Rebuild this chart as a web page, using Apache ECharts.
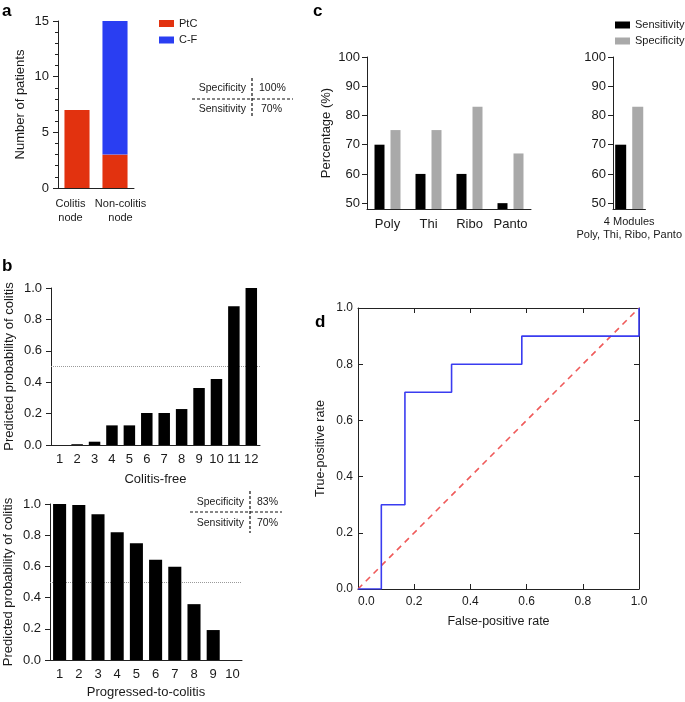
<!DOCTYPE html>
<html>
<head>
<meta charset="utf-8">
<script src="https://cdn.jsdelivr.net/npm/echarts@6/dist/echarts.min.js"></script>
<style>html,body{margin:0;padding:0;background:#fff}#c{width:685px;height:702px}</style>
</head>
<body>
<div id="c"></div>
<script>
// ---- Data ----
const aCategories = ['Colitis\nnode', 'Non-colitis\nnode'];
const aPtC = [7, 3];
const aCF = [0, 12];

const bFreeCats = ['1','2','3','4','5','6','7','8','9','10','11','12'];
const bFreeProb = [0, 0.005, 0.021, 0.125, 0.125, 0.204, 0.204, 0.229, 0.363, 0.42, 0.883, 1.0];

const bProgCats = ['1','2','3','4','5','6','7','8','9','10'];
const bProgProb = [1.0, 0.994, 0.934, 0.819, 0.749, 0.642, 0.597, 0.358, 0.192, 0];

const cModules = ['Poly', 'Thi', 'Ribo', 'Panto'];
const cSensitivity = [70, 60, 60, 50];
const cSpecificity = [75, 75, 83, 67];

const cCombinedCat = ['4 Modules\nPoly, Thi, Ribo, Panto'];
const cCombinedSens = [70];
const cCombinedSpec = [83];

const rocFPR = [0, 0.083, 0.167, 0.333, 0.583, 1.0];
const rocTPR = [0, 0.3, 0.7, 0.8, 0.9, 1.0];
const diagFPR = [0, 1];
const diagTPR = [0, 1];

const percentTicks = [50, 60, 70, 80, 90, 100];

// ---- Styles ----
const FONT = '"Liberation Sans", Arial, Helvetica, sans-serif';
const TXT = '#1a1a1a';
const AX = '#222';
const RED = '#e2320f';
const BLUE = '#2a3ef2';
const GRAY = '#a9a9a9';

function catAxis(grid, data, opts) {
  return Object.assign({
    type: 'category', gridIndex: grid, data: data,
    axisLine: {onZero: false, lineStyle: {color: AX, width: 1}},
    axisTick: {alignWithLabel: true, length: 4, lineStyle: {color: AX}},
    axisLabel: {color: TXT, fontSize: 13, margin: 8, interval: 0, fontFamily: FONT},
    splitLine: {show: false}
  }, opts || {});
}
function valAxis(grid, opts) {
  return Object.assign({
    type: 'value', gridIndex: grid,
    axisLine: {show: true, onZero: false, lineStyle: {color: AX, width: 1}},
    axisTick: {show: true, length: 5, lineStyle: {color: AX}},
    axisLabel: {color: TXT, fontSize: 13, margin: 9, fontFamily: FONT},
    splitLine: {show: false},
    nameLocation: 'middle',
    nameTextStyle: {color: TXT, fontSize: 13, fontFamily: FONT}
  }, opts || {});
}

const refLine = {
  silent: true, symbol: ['none', 'none'], z: 1,
  label: {show: false},
  lineStyle: {type: 'dotted', color: '#9a9a9a', width: 1},
  data: [{yAxis: 0.5}]
};

const boxTick = {show: true, inside: true, length: 5, lineStyle: {color: AX, width: 1}};

const option = {
  animation: false,
  backgroundColor: '#fff',
  textStyle: {fontFamily: FONT},
  title: [
    {text: 'a', left: 2, top: 3, padding: 0, textStyle: {fontSize: 17, fontWeight: 'bold', color: '#000', fontFamily: FONT}},
    {text: 'b', left: 2, top: 258, padding: 0, textStyle: {fontSize: 17, fontWeight: 'bold', color: '#000', fontFamily: FONT}},
    {text: 'c', left: 313, top: 3, padding: 0, textStyle: {fontSize: 17, fontWeight: 'bold', color: '#000', fontFamily: FONT}},
    {text: 'd', left: 315, top: 314, padding: 0, textStyle: {fontSize: 17, fontWeight: 'bold', color: '#000', fontFamily: FONT}}
  ],
  legend: [
    {data: ['PtC', 'C-F'], orient: 'vertical', left: 159, top: 16.5, padding: 0,
     itemWidth: 15, itemHeight: 7, itemGap: 2.5, icon: 'rect', selectedMode: false,
     textStyle: {fontSize: 11, lineHeight: 14, color: TXT, fontFamily: FONT}},
    {data: ['Sensitivity', 'Specificity'], orient: 'vertical', left: 615, top: 18, padding: 0,
     itemWidth: 15, itemHeight: 7, itemGap: 2, icon: 'rect', selectedMode: false,
     textStyle: {fontSize: 11, lineHeight: 14, color: TXT, fontFamily: FONT}}
  ],
  grid: [
    {left: 58, top: 21, width: 76, height: 167},     // a
    {left: 51, top: 288, width: 209, height: 157},   // b top
    {left: 50, top: 504, width: 192, height: 156},   // b bottom
    {left: 367, top: 57, width: 164, height: 152},   // c left
    {left: 613, top: 57, width: 36, height: 152},    // c right
    {left: 358, top: 308, width: 281, height: 281}   // d
  ],
  xAxis: [
    catAxis(0, aCategories, {axisLabel: {color: TXT, fontSize: 11, lineHeight: 14, margin: 9, interval: 0, fontFamily: FONT,
      formatter: (v, i) => v.split('\n').map(s => '{' + (i === 0 ? 'l' : 'r') + '|' + s + '}').join('\n'),
      rich: {
        l: {fontSize: 11, lineHeight: 14, color: TXT, fontFamily: FONT, padding: [0, 13, 0, 0]},
        r: {fontSize: 11, lineHeight: 14, color: TXT, fontFamily: FONT, padding: [0, 0, 0, 11]}
      }}}),
    catAxis(1, bFreeCats, {name: 'Colitis-free', nameLocation: 'middle', nameGap: 28,
      nameTextStyle: {color: TXT, fontSize: 13, fontFamily: FONT}}),
    catAxis(2, bProgCats, {name: 'Progressed-to-colitis', nameLocation: 'middle', nameGap: 26,
      nameTextStyle: {color: TXT, fontSize: 13, fontFamily: FONT}}),
    catAxis(3, cModules, {axisLabel: {color: TXT, fontSize: 13, margin: 9, interval: 0, fontFamily: FONT}}),
    catAxis(4, cCombinedCat, {axisLabel: {color: TXT, fontSize: 11, lineHeight: 13, margin: 6, interval: 0, fontFamily: FONT}}),
    valAxis(5, {min: 0, max: 1, interval: 0.2, position: 'bottom',
      axisTick: boxTick,
      axisLabel: {color: TXT, fontSize: 12, margin: 7, fontFamily: FONT, alignMinLabel: 'left',
        formatter: v => v.toFixed(1)},
      name: 'False-positive rate', nameGap: 26,
      nameTextStyle: {color: TXT, fontSize: 12.5, fontFamily: FONT}}),
    valAxis(5, {min: 0, max: 1, interval: 0.2, position: 'top',
      axisTick: boxTick,
      axisLabel: {show: false}})
  ],
  yAxis: [
    valAxis(0, {min: 0, max: 15, interval: 5, name: 'Number of patients', nameGap: 31,
      minorTick: {show: true, splitNumber: 5, length: 3, lineStyle: {color: AX}},
      axisLabel: {color: TXT, fontSize: 13, margin: 9, fontFamily: FONT}}),
    valAxis(1, {min: 0, max: 1, interval: 0.2, name: 'Predicted probability of colitis', nameGap: 35,
      axisLabel: {color: TXT, fontSize: 13, margin: 9, fontFamily: FONT, formatter: v => v.toFixed(1)}}),
    valAxis(2, {min: 0, max: 1, interval: 0.2, name: 'Predicted probability of colitis', nameGap: 35,
      axisLabel: {color: TXT, fontSize: 13, margin: 9, fontFamily: FONT, formatter: v => v.toFixed(1)}}),
    valAxis(3, {min: 48, max: 100, name: 'Percentage (%)', nameGap: 34,
      axisTick: {show: true, length: 5, customValues: percentTicks, lineStyle: {color: AX}},
      axisLabel: {color: TXT, fontSize: 13, margin: 7, fontFamily: FONT, customValues: percentTicks}}),
    valAxis(4, {min: 48, max: 100,
      axisTick: {show: true, length: 5, customValues: percentTicks, lineStyle: {color: AX}},
      axisLabel: {color: TXT, fontSize: 13, margin: 7, fontFamily: FONT, customValues: percentTicks}}),
    valAxis(5, {min: 0, max: 1, interval: 0.2, position: 'left',
      axisTick: boxTick,
      axisLabel: {color: TXT, fontSize: 12, margin: 5, fontFamily: FONT, formatter: v => v.toFixed(1)},
      name: 'True-positive rate', nameGap: 31,
      nameTextStyle: {color: TXT, fontSize: 12.5, fontFamily: FONT}}),
    valAxis(5, {min: 0, max: 1, interval: 0.2, position: 'right',
      axisTick: boxTick,
      axisLabel: {show: false}})
  ],
  series: [
    {name: 'PtC', type: 'bar', xAxisIndex: 0, yAxisIndex: 0, stack: 'a', data: aPtC,
     barWidth: '66%', itemStyle: {color: RED}},
    {name: 'C-F', type: 'bar', xAxisIndex: 0, yAxisIndex: 0, stack: 'a', data: aCF,
     barWidth: '66%', itemStyle: {color: BLUE}},
    {name: 'free', type: 'bar', xAxisIndex: 1, yAxisIndex: 1, data: bFreeProb,
     barWidth: '66%', itemStyle: {color: '#000'}, markLine: refLine},
    {name: 'prog', type: 'bar', xAxisIndex: 2, yAxisIndex: 2, data: bProgProb,
     barWidth: '68%', itemStyle: {color: '#000'}, markLine: refLine},
    {name: 'Sensitivity', type: 'bar', xAxisIndex: 3, yAxisIndex: 3, data: cSensitivity,
     barWidth: 10, barGap: '60%', itemStyle: {color: '#000'}},
    {name: 'Specificity', type: 'bar', xAxisIndex: 3, yAxisIndex: 3, data: cSpecificity,
     barWidth: 10, barGap: '60%', itemStyle: {color: GRAY}},
    {name: 'Sensitivity', type: 'bar', xAxisIndex: 4, yAxisIndex: 4, data: cCombinedSens,
     barWidth: 11, barGap: '55%', itemStyle: {color: '#000'}},
    {name: 'Specificity', type: 'bar', xAxisIndex: 4, yAxisIndex: 4, data: cCombinedSpec,
     barWidth: 11, barGap: '55%', itemStyle: {color: GRAY}},
    {name: 'ROC', type: 'line', xAxisIndex: 5, yAxisIndex: 5, step: 'end',
     data: rocFPR.map((x, i) => [x, rocTPR[i]]), showSymbol: false, symbol: 'none',
     lineStyle: {color: '#3a3cf0', width: 1.6}, z: 3},
    {name: 'chance', type: 'line', xAxisIndex: 5, yAxisIndex: 5,
     data: diagFPR.map((x, i) => [x, diagTPR[i]]), showSymbol: false, symbol: 'none',
     lineStyle: {color: '#ef5a5a', width: 1.6, type: [6, 5]}, z: 2}
  ],
  graphic: [
    // table a
    {type: 'text', x: 246, y: 88, style: {text: 'Specificity', align: 'right', verticalAlign: 'middle', fontSize: 10.5, fill: TXT, fontFamily: FONT}},
    {type: 'text', x: 259, y: 88, style: {text: '100%', align: 'left', verticalAlign: 'middle', fontSize: 10.5, fill: TXT, fontFamily: FONT}},
    {type: 'text', x: 246, y: 109, style: {text: 'Sensitivity', align: 'right', verticalAlign: 'middle', fontSize: 10.5, fill: TXT, fontFamily: FONT}},
    {type: 'text', x: 261, y: 109, style: {text: '70%', align: 'left', verticalAlign: 'middle', fontSize: 10.5, fill: TXT, fontFamily: FONT}},
    {type: 'line', shape: {x1: 192, y1: 99, x2: 293, y2: 99}, style: {stroke: '#111', lineWidth: 1.2, lineDash: [3, 2]}},
    {type: 'line', shape: {x1: 252, y1: 78, x2: 252, y2: 118}, style: {stroke: '#111', lineWidth: 1.2, lineDash: [3, 2]}},
    // table b
    {type: 'text', x: 244, y: 502, style: {text: 'Specificity', align: 'right', verticalAlign: 'middle', fontSize: 10.5, fill: TXT, fontFamily: FONT}},
    {type: 'text', x: 257, y: 502, style: {text: '83%', align: 'left', verticalAlign: 'middle', fontSize: 10.5, fill: TXT, fontFamily: FONT}},
    {type: 'text', x: 244, y: 523, style: {text: 'Sensitivity', align: 'right', verticalAlign: 'middle', fontSize: 10.5, fill: TXT, fontFamily: FONT}},
    {type: 'text', x: 257, y: 523, style: {text: '70%', align: 'left', verticalAlign: 'middle', fontSize: 10.5, fill: TXT, fontFamily: FONT}},
    {type: 'line', shape: {x1: 190, y1: 512, x2: 282, y2: 512}, style: {stroke: '#111', lineWidth: 1.2, lineDash: [3, 2]}},
    {type: 'line', shape: {x1: 250, y1: 491, x2: 250, y2: 533}, style: {stroke: '#111', lineWidth: 1.2, lineDash: [3, 2]}}
  ]
};

const chart = echarts.init(document.getElementById('c'), null, {renderer: 'canvas'});
chart.setOption(option);
</script>
</body>
</html>
